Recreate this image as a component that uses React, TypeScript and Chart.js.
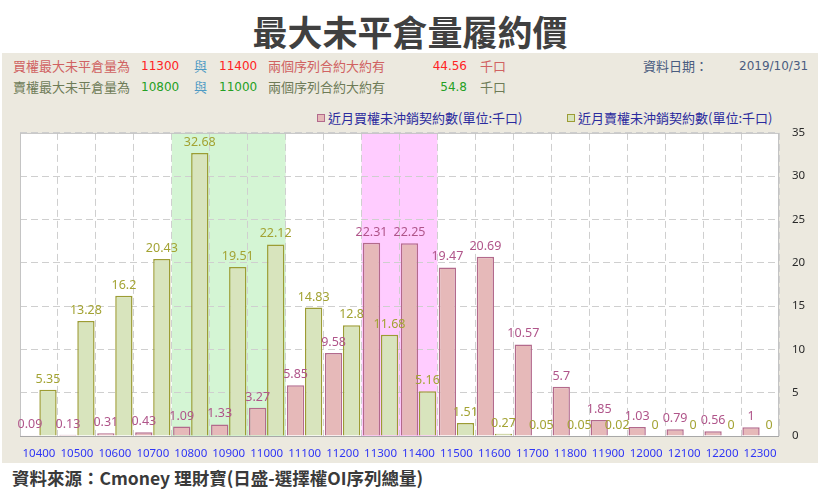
import { useEffect, useRef } from "react";
import { Chart, registerables } from "chart.js";
import type { Plugin } from "chart.js";

Chart.register(...registerables);

document.body.style.margin = "0";

const strikes = [
  "10400", "10500", "10600", "10700", "10800", "10900", "11000", "11100", "11200", "11300",
  "11400", "11500", "11600", "11700", "11800", "11900", "12000", "12100", "12200", "12300",
];
// 近月買權未沖銷契約數 (千口)
const callOI = [
  0.09, 0.13, 0.31, 0.43, 1.09, 1.33, 3.27, 5.85, 9.58, 22.31,
  22.25, 19.47, 20.69, 10.57, 5.7, 1.85, 1.03, 0.79, 0.56, 1,
];
// 近月賣權未沖銷契約數 (千口)
const putOI = [
  5.35, 13.28, 16.2, 20.43, 32.68, 19.51, 22.12, 14.83, 12.8, 11.68,
  5.16, 1.51, 0.27, 0.05, 0.05, 0.02, 0, 0, 0, 0,
];
const yMax = 35;
const yStep = 5;

const callPair = ["11300", "11400"];
const callTotal = "44.56";
const putPair = ["10800", "11000"];
const putTotal = "54.8";
const dataDate = "2019/10/31";

const callLegend = "近月買權未沖銷契約數(單位:千口)";
const putLegend = "近月賣權未沖銷契約數(單位:千口)";

const CALL_FILL = "#E6B9B9";
const CALL_LINE = "#B36A8C";
const CALL_TEXT = "#B0558A";
const PUT_FILL = "#D8E4BD";
const PUT_LINE = "#9C9C34";
const PUT_TEXT = "#A3A333";

const bandPlugin: Plugin<"bar"> = {
  id: "bands",
  beforeDraw(chart) {
    const { ctx, chartArea } = chart;
    const x = chart.scales.x;
    ctx.save();
    ctx.fillStyle = "#FFFFFF";
    ctx.fillRect(chartArea.left, chartArea.top, chartArea.width, chartArea.height);
    const half = (x.getPixelForValue(1) - x.getPixelForValue(0)) / 2;
    const bands: [string[], string][] = [
      [putPair, "#D4F5D4"],
      [callPair, "#FFCCFF"],
    ];
    for (const [pair, color] of bands) {
      const a = x.getPixelForValue(strikes.indexOf(pair[0])) - half;
      const b = x.getPixelForValue(strikes.indexOf(pair[1])) + half;
      ctx.fillStyle = color;
      ctx.fillRect(a, chartArea.top, b - a, chartArea.height);
    }
    ctx.restore();
  },
  beforeDatasetsDraw(chart) {
    const { ctx, chartArea } = chart;
    ctx.save();
    ctx.strokeStyle = "#C4C4C4";
    ctx.lineWidth = 1;
    ctx.strokeRect(chartArea.left + 0.5, chartArea.top + 0.5, chartArea.width - 1, chartArea.height);
    ctx.strokeStyle = "#A8A8A8";
    ctx.beginPath();
    ctx.moveTo(chartArea.left, chartArea.bottom + 0.5);
    ctx.lineTo(chartArea.right, chartArea.bottom + 0.5);
    ctx.stroke();
    ctx.restore();
  },
  afterDatasetsDraw(chart) {
    const { ctx } = chart;
    ctx.save();
    ctx.font = "12.5px 'Noto Sans', sans-serif";
    ctx.textAlign = "center";
    ctx.textBaseline = "alphabetic";
    chart.data.datasets.forEach((ds, i) => {
      ctx.fillStyle = i === 0 ? CALL_TEXT : PUT_TEXT;
      chart.getDatasetMeta(i).data.forEach((bar, j) => {
        const { x, y } = bar.getProps(["x", "y"], true);
        ctx.fillText(String(ds.data[j]), x, y - 7);
      });
    });
    ctx.restore();
  },
};

const ChartComponent = () => {
  const chartRef = useRef<HTMLCanvasElement | null>(null);

  useEffect(() => {
    if (!chartRef.current) return;
    const chart = new Chart(chartRef.current, {
      type: "bar",
      data: {
        labels: strikes,
        datasets: [
          {
            label: callLegend,
            data: callOI,
            backgroundColor: CALL_FILL,
            borderColor: CALL_LINE,
            borderWidth: 1.5,
            categoryPercentage: 0.95,
            barPercentage: 0.96,
          },
          {
            label: putLegend,
            data: putOI,
            backgroundColor: PUT_FILL,
            borderColor: PUT_LINE,
            borderWidth: 1.5,
            categoryPercentage: 0.95,
            barPercentage: 0.96,
          },
        ],
      },
      options: {
        animation: false,
        responsive: true,
        maintainAspectRatio: false,
        layout: { padding: { left: 18, top: 7, right: 0, bottom: 0 } },
        plugins: {
          legend: { display: false },
          tooltip: { enabled: false },
        },
        scales: {
          x: {
            grid: { color: "#CFCFCF", drawTicks: false, offset: true },
            border: { display: false, dash: [7, 4] },
            ticks: {
              color: "#3036F5",
              padding: 11,
              maxRotation: 0,
              autoSkip: false,
              font: { family: "'Noto Sans', sans-serif", size: 11.5 },
            },
            afterFit: (scale) => {
              scale.height = 27;
            },
          },
          y: {
            position: "right",
            min: 0,
            max: yMax,
            grid: { color: "#CFCFCF", drawTicks: false },
            border: { display: false, dash: [7, 4] },
            ticks: {
              stepSize: yStep,
              color: "#2A2A2A",
              padding: 13,
              font: { family: "'Noto Sans', sans-serif", size: 11.5 },
            },
            afterFit: (scale) => {
              scale.width = 39;
            },
          },
        },
      },
      plugins: [bandPlugin],
    });
    return () => chart.destroy();
  }, []);

  return <canvas ref={chartRef} />;
};

const cjk = "'Noto Sans CJK TC', sans-serif";
const num = "'DejaVu Sans', 'Noto Sans CJK TC', sans-serif";

const Txt = ({ x, y, color, children, font = cjk, size = 13, w, right }: any) => (
  <div
    style={{
      position: "absolute",
      left: x,
      top: y,
      width: w,
      textAlign: right ? "right" : "left",
      color,
      fontFamily: font,
      fontSize: size,
      lineHeight: "16px",
      whiteSpace: "nowrap",
    }}
  >
    {children}
  </div>
);

const Square = ({ x, fill, line }: { x: number; fill: string; line: string }) => (
  <div
    style={{
      position: "absolute",
      left: x,
      top: 114,
      width: 6,
      height: 6,
      background: fill,
      border: `1.5px solid ${line}`,
    }}
  />
);

export default function App() {
  const labelRed = "#D06262";
  const numRed = "#FF2424";
  const labelOlive = "#6E7B57";
  const numGreen = "#24A024";
  const teal = "#4E9AC4";
  const slate = "#4A5C80";
  return (
    <div style={{ position: "relative", width: 820, height: 501, background: "#FFFFFF", overflow: "hidden" }}>
      <div
        style={{
          position: "absolute",
          left: 0,
          top: 8,
          width: 820,
          textAlign: "center",
          fontFamily: cjk,
          fontWeight: 700,
          fontSize: 35,
          lineHeight: "46px",
          color: "#404040",
        }}
      >
        最大未平倉量履約價
      </div>
      <div style={{ position: "absolute", left: 2, top: 53, width: 816, height: 410, background: "#ECE9DF" }} />

      <Txt x={13} y={58} color={labelRed}>買權最大未平倉量為</Txt>
      <Txt x={141} y={58} color={numRed} font={num} size={12}>{callPair[0]}</Txt>
      <Txt x={194} y={58} color={teal}>與</Txt>
      <Txt x={219} y={58} color={numRed} font={num} size={12}>{callPair[1]}</Txt>
      <Txt x={268} y={58} color={labelRed}>兩個序列合約大約有</Txt>
      <Txt x={400} y={58} w={67} right color={numRed} font={num} size={12}>{callTotal}</Txt>
      <Txt x={480} y={58} color={labelRed}>千口</Txt>
      <Txt x={643} y={58} color={slate}>資料日期：</Txt>
      <Txt x={739} y={58} color={slate} font={num} size={12}>{dataDate}</Txt>

      <Txt x={13} y={79} color={labelOlive}>賣權最大未平倉量為</Txt>
      <Txt x={141} y={79} color={numGreen} font={num} size={12}>{putPair[0]}</Txt>
      <Txt x={194} y={79} color={teal}>與</Txt>
      <Txt x={219} y={79} color={numGreen} font={num} size={12}>{putPair[1]}</Txt>
      <Txt x={268} y={79} color={labelOlive}>兩個序列合約大約有</Txt>
      <Txt x={400} y={79} w={67} right color={numGreen} font={num} size={12}>{putTotal}</Txt>
      <Txt x={480} y={79} color={labelOlive}>千口</Txt>

      <Square x={317} fill={CALL_FILL} line={CALL_LINE} />
      <Txt x={328} y={110} color="#2B2B9E">{callLegend}</Txt>
      <Square x={567} fill={PUT_FILL} line={PUT_LINE} />
      <Txt x={578} y={110} color="#2B2B9E">{putLegend}</Txt>

      <div style={{ position: "absolute", left: 2, top: 113, width: 816, height: 350 }}>
        <ChartComponent />
      </div>

      <div
        style={{
          position: "absolute",
          left: 12,
          top: 466,
          fontFamily: cjk,
          fontWeight: 700,
          fontSize: 17.5,
          lineHeight: "24px",
          color: "#3A3A3A",
          whiteSpace: "nowrap",
        }}
      >
        資料來源：Cmoney 理財寶(日盛-選擇權OI序列總量)
      </div>
    </div>
  );
}
